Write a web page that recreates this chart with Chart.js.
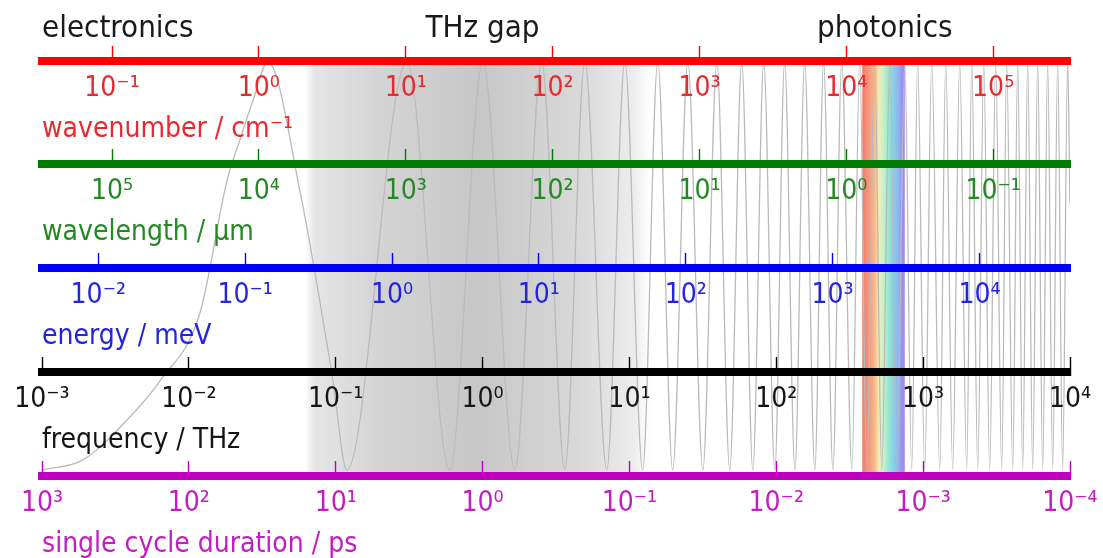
<!DOCTYPE html>
<html>
<head>
<meta charset="utf-8">
<script src="https://cdn.jsdelivr.net/npm/chart.js@4"></script>
<style>
  html, body { margin: 0; padding: 0; background: #fff; }
  canvas { display: block; }
</style>
</head>
<body>
<canvas id="spectrum" width="1103" height="558"></canvas>
<script>
// plotted frequency range, THz
const freqRange = [1e-3, 1e4];

// tick exponents for each axis (labels read 10^n)
const wavenumberExp = [-1, 0, 1, 2, 3, 4, 5];
const wavelengthExp = [5, 4, 3, 2, 1, 0, -1];
const energyExp = [-2, -1, 0, 1, 2, 3, 4];
const frequencyExp = [-3, -2, -1, 0, 1, 2, 3, 4];
const periodExp = [3, 2, 1, 0, -1, -2, -3, -4];

// grey chirped wave: frequency (THz) and amplitude
const waveFreq = [
  0.001, 0.0019, 0.0042, 0.0064, 0.0119, 0.0182, 0.0223, 0.0273, 0.0345, 0.057, 0.0957, 0.119,
  0.305, 0.598, 1.005, 1.66, 2.53, 3.63, 4.97, 7.01, 9.31, 12.3, 15.6, 19.7, 25.0, 31.6,
  39.4, 48.2, 58.2, 69.2, 82.2, 97.7, 114, 134, 156, 183, 210, 243, 279, 327, 370, 413,
  468, 522, 593, 661, 750, 836, 918, 1025, 1145, 1298, 1425, 1589, 1774, 1981, 2143, 2355,
  2587, 2839, 3119, 3427, 3706, 4074, 4406, 4764, 5152, 5572, 6026, 6517, 7047, 7622,
  8242, 8913, 9638, 10000
];
const waveAmp = [
  -1, -0.95, -0.72, -0.56, -0.23, 0.42, 0.62, 0.81, 1, 0.37, -0.56, -1,
  1, -1, 1, -1, 1, -1, 1, -1, 1, -1, 1, -1, 1, -1,
  1, -1, 1, -1, 1, -1, 1, -1, 1, -1, 1, -1, 1, -1, 1, -1,
  1, -1, 1, -1, 1, -1, 1, -1, 1, -1, 1, -1, 1, -1, 1, -1,
  1, -1, 1, -1, 1, -1, 1, -1, 1, -1, 1, -1, 1, -1,
  1, -1, 1, 0.3
];

// THz gap shading: frequency stops (THz) and darkness
const gapFreq = [0.062, 0.072, 0.2, 0.96, 4.6, 10.9, 13.8];
const gapShade = [0, 0.1, 0.17, 0.22, 0.15, 0.07, 0];

// visible light band: frequency stops (THz)
const visibleFreq = [385, 430, 470, 500, 540, 590, 630, 680, 720, 750];
const visibleColors = ['#f07a6a', '#f49a80', '#f8bc8a', '#f2ecb8', '#c0f2c8',
                       '#92e2d4', '#84d0ea', '#92b2f0', '#9890ee', '#a48af0'];

// unit conversions from frequency in THz
const toWavenumber = f => f * 33.35641;      // cm^-1
const toWavelength = f => 299.792458 / f;    // um
const toEnergy = f => f * 4.135667;          // meV
const toPeriod = f => 1 / f;                 // ps

const FONT = '"DejaVu Sans Condensed", "Liberation Sans Narrow", "DejaVu Sans", sans-serif';
const rows = [60.5, 164, 267.5, 371.5, 475.5];

const SUP = { '-': '\u207b', '0': '\u2070', '1': '\u00b9', '2': '\u00b2', '3': '\u00b3',
              '4': '\u2074', '5': '\u2075', '6': '\u2076', '7': '\u2077', '8': '\u2078', '9': '\u2079' };
function powLabel(v) {
  const n = Math.round(Math.log10(v));
  return '10' + String(n).split('').map(c => SUP[c]).join('');
}

function makeAxis(row, lineColor, textColor, exps, conv, reverse) {
  const ends = freqRange.map(conv);
  return {
    type: 'logarithmic',
    axis: 'x',
    position: { pos: row },
    min: Math.min(...ends),
    max: Math.max(...ends),
    reverse: reverse,
    afterBuildTicks: s => { s.ticks = exps.map(e => ({ value: Math.pow(10, e) })); },
    afterFit: s => { s.height = 0; s.paddingLeft = 0; s.paddingRight = 0; },
    border: { display: true, color: lineColor, width: 8, z: 2 },
    grid: { display: true, drawOnChartArea: false, drawTicks: true, tickLength: -19,
            tickWidth: 1.4, tickColor: lineColor, z: 1 },
    ticks: { autoSkip: false, maxRotation: 0, padding: 30, color: textColor,
             font: { family: FONT, size: 28 }, callback: v => powLabel(v), z: 2 }
  };
}

const axisTitles = [
  { text: 'wavenumber / cm\u207b\u00b9', color: '#e62a30' },
  { text: 'wavelength / \u00b5m', color: '#238a23' },
  { text: 'energy / meV', color: '#2323e0' },
  { text: 'frequency / THz', color: '#151515' },
  { text: 'single cycle duration / ps', color: '#c21cc2' }
];
const headers = [
  { text: 'electronics', f: 1e-3, align: 'left' },
  { text: 'THz gap', f: 1, align: 'center' },
  { text: 'photonics', f: 548, align: 'center' }
];

const backdrop = {
  id: 'backdrop',
  beforeDatasetsDraw(chart) {
    const { ctx, scales } = chart;
    const fx = scales.freq, py = scales.pos;
    const top = py.getPixelForValue(rows[0]);
    const bottom = py.getPixelForValue(rows[4]);
    ctx.save();
    // THz gap
    let a = fx.getPixelForValue(gapFreq[0]), b = fx.getPixelForValue(gapFreq[gapFreq.length - 1]);
    let grad = ctx.createLinearGradient(a, 0, b, 0);
    gapFreq.forEach((f, i) => grad.addColorStop((fx.getPixelForValue(f) - a) / (b - a), 'rgba(0,0,0,' + gapShade[i] + ')'));
    ctx.fillStyle = grad;
    ctx.fillRect(a, top, b - a, bottom - top);
    // visible light
    a = fx.getPixelForValue(visibleFreq[0]);
    b = fx.getPixelForValue(visibleFreq[visibleFreq.length - 1]);
    grad = ctx.createLinearGradient(a, 0, b, 0);
    visibleFreq.forEach((f, i) => grad.addColorStop((fx.getPixelForValue(f) - a) / (b - a), visibleColors[i]));
    ctx.fillStyle = grad;
    ctx.fillRect(a, top, b - a, bottom - top);
    ctx.restore();
  },
  afterDraw(chart) {
    const { ctx, scales, chartArea } = chart;
    ctx.save();
    ctx.textBaseline = 'alphabetic';
    ctx.font = '28px ' + FONT;
    ctx.textAlign = 'left';
    axisTitles.forEach((t, i) => {
      ctx.fillStyle = t.color;
      ctx.fillText(t.text, chartArea.left, scales.pos.getPixelForValue(rows[i]) + 76);
    });
    ctx.font = '31px ' + FONT;
    ctx.fillStyle = '#1a1a1a';
    headers.forEach(h => {
      ctx.textAlign = h.align;
      ctx.fillText(h.text, scales.freq.getPixelForValue(h.f), 37);
    });
    ctx.restore();
  }
};

new Chart(document.getElementById('spectrum'), {
  type: 'line',
  data: {
    datasets: [{
      data: waveFreq.map((f, i) => ({ x: f, y: waveAmp[i] })),
      xAxisID: 'freq',
      yAxisID: 'wave',
      borderColor: '#bababa',
      borderWidth: 1.3,
      pointRadius: 0,
      cubicInterpolationMode: 'monotone',
      fill: false
    }]
  },
  options: {
    responsive: false,
    animation: false,
    devicePixelRatio: 1,
    layout: { padding: { left: 42, right: 33, top: 0, bottom: 0 } },
    plugins: { legend: { display: false }, tooltip: { enabled: false } },
    scales: {
      pos: { type: 'linear', axis: 'y', display: false, min: 0, max: 558, reverse: true },
      wave: { type: 'linear', axis: 'y', display: false, min: -1.431, max: 1.304 },
      wn: makeAxis(rows[0], '#ff0000', '#e62a30', wavenumberExp, toWavenumber, false),
      wl: makeAxis(rows[1], '#007a00', '#238a23', wavelengthExp, toWavelength, true),
      en: makeAxis(rows[2], '#0000ff', '#2323e0', energyExp, toEnergy, false),
      freq: makeAxis(rows[3], '#000000', '#151515', frequencyExp, f => f, false),
      per: makeAxis(rows[4], '#bf00bf', '#c21cc2', periodExp, toPeriod, true)
    }
  },
  plugins: [backdrop]
});
</script>
</body>
</html>
